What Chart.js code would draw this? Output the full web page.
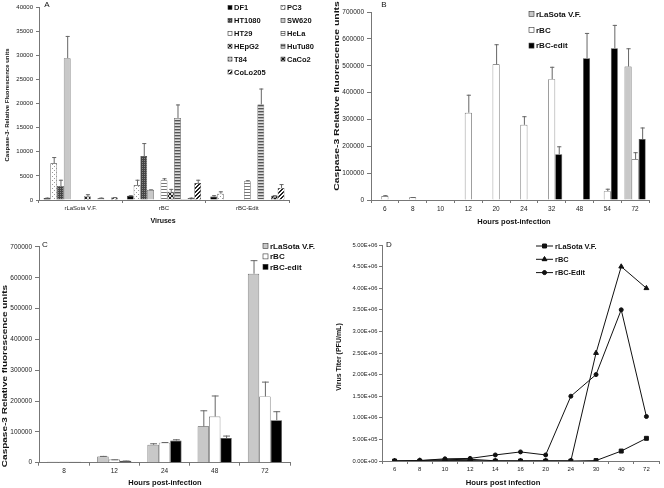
<!DOCTYPE html>
<html>
<head>
<meta charset="utf-8">
<script src="https://cdn.jsdelivr.net/npm/chart.js@4.4.1/dist/chart.umd.min.js"></script>
<style>
  body { margin: 0; background: #fff; width: 664px; height: 488px; position: relative; overflow: hidden; }
  canvas { position: absolute; }
</style>
</head>
<body>
<canvas id="chartA" width="332" height="240" style="left:0;top:0"></canvas>
<canvas id="chartB" width="332" height="240" style="left:332px;top:0"></canvas>
<canvas id="chartC" width="332" height="248" style="left:0;top:240px"></canvas>
<canvas id="chartD" width="332" height="248" style="left:332px;top:240px"></canvas>
<script>
// ---- Panel A: caspase-3 per cell line ----
const virusesA = ["rLaSota V.F.", "rBC", "rBC-Edit"];
const cellLines = ["DF1", "PC3", "HT1080", "SW620", "HT29", "HeLa", "HEpG2", "HuTu80", "T84", "CaCo2", "CoLo205"];
// one row per cell line, one value per virus
const meanA = [
  [400, 900, 700],
  [7600, 3100, 1300],
  [2900, 9100, null],
  [29400, 2100, null],
  [null, null, null],
  [null, 4100, 3900],
  [800, 1700, null],
  [null, 17000, 19800],
  [400, 200, null],
  [null, 400, 900],
  [500, 3500, 2500]
];
const errTopA = [
  [500, 1000, 1000],
  [8900, 4200, 1800],
  [4200, 11800, null],
  [34000, 2200, null],
  [null, null, null],
  [null, 4500, 4100],
  [1200, 2300, null],
  [null, 19800, 23100],
  [500, null, null],
  [null, 500, 1000],
  [600, 4200, 3300]
];

// ---- Panel B: caspase-3 time course ----
const hoursB = ["6", "8", "10", "12", "20", "24", "32", "48", "54", "72"];
const lasotaB = [null, null, null, null, null, null, null, null, null, 497000];
const lasotaErrB = [null, null, null, null, null, null, null, null, null, 565000];
const rbcB = [15000, 10000, null, 325000, 505000, 280000, 450000, null, 33000, 152000];
const rbcErrB = [18000, 11000, null, 392000, 580000, 312000, 496000, null, 42000, 178000];
const editB = [null, null, null, null, null, null, 170000, 528000, 565000, 227000];
const editErrB = [null, null, null, null, null, null, 200000, 622000, 652000, 270000];

// ---- Panel C ----
const hoursC = ["8", "12", "24", "48", "72"];
const lasotaC = [3000, 20000, 58000, 118000, 613000];
const lasotaErrC = [null, 22000, 63000, 170000, 657000];
const rbcC = [3000, 10000, 65000, 150000, 215000];
const rbcErrC = [null, 11000, 67000, 218000, 263000];
const editC = [3000, 6000, 72000, 80000, 138000];
const editErrC = [null, 7000, 76000, 88000, 167000];

// ---- Panel D: virus titer ----
const hoursD = ["6", "8", "10", "12", "14", "16", "20", "24", "30", "40", "72"];
const lasotaD = [0, 0, 10000, 10000, 0, 0, 0, 0, 10000, 230000, 525000];
const rbcD = [0, 10000, 30000, 40000, 5000, 5000, 5000, 5000, 2500000, 4500000, 4000000];
const editD = [0, 10000, 50000, 60000, 140000, 210000, 140000, 1500000, 2000000, 3500000, 1030000];

Chart.defaults.font.family = "'Liberation Sans', Arial, sans-serif";
Chart.defaults.color = "#222";
Chart.defaults.animation = false;

// small pixel patterns for the cell line bars
function pattern(size, bg, draw) {
  const c = document.createElement("canvas");
  c.width = size; c.height = size;
  const g = c.getContext("2d");
  g.fillStyle = bg; g.fillRect(0, 0, size, size);
  draw(g);
  return g.createPattern(c, "repeat");
}
const px = (g, col, pts) => { g.fillStyle = col; pts.forEach(p => g.fillRect(p[0], p[1], 1, 1)); };
const fillsA = [
  "#000",
  pattern(4, "#fff", g => px(g, "#999", [[0, 0], [2, 2]])),
  pattern(2, "#444", g => px(g, "#888", [[0, 0]])),
  "#c8c8c8",
  "#fff",
  pattern(3, "#fff", g => { g.fillStyle = "#777"; g.fillRect(0, 0, 3, 1); }),
  pattern(4, "#ddd", g => px(g, "#222", [[0, 0], [1, 1], [2, 2], [3, 3], [3, 0], [2, 1], [1, 2], [0, 3]])),
  pattern(3, "#aaa", g => { g.fillStyle = "#555"; g.fillRect(0, 0, 3, 1); g.fillStyle = "#ddd"; g.fillRect(0, 2, 3, 1); }),
  pattern(3, "#ccc", g => px(g, "#777", [[0, 0]])),
  pattern(4, "#999", g => px(g, "#111", [[0, 0], [1, 0], [0, 1], [2, 2], [3, 2], [2, 3], [3, 3]])),
  pattern(4, "#fff", g => px(g, "#222", [[0, 3], [1, 2], [2, 1], [3, 0], [0, 2], [1, 1], [2, 0], [3, 3]]))
];

// error bars drawn from each dataset's errTop list
const errorBars = {
  id: "errorBars",
  afterDatasetsDraw(chart) {
    const ctx = chart.ctx, y = chart.scales.y;
    chart.data.datasets.forEach((ds, i) => {
      if (!ds.errTop) return;
      chart.getDatasetMeta(i).data.forEach((bar, j) => {
        const top = ds.errTop[j];
        if (top == null || ds.data[j] == null) return;
        const yt = y.getPixelForValue(top);
        const cap = Math.max(2, bar.width * 0.3);
        ctx.save();
        ctx.strokeStyle = "#666"; ctx.lineWidth = 1;
        ctx.beginPath();
        ctx.moveTo(bar.x + 0.5, bar.y); ctx.lineTo(bar.x + 0.5, yt);
        ctx.moveTo(bar.x + 0.5 - cap, yt + 0.5); ctx.lineTo(bar.x + 0.5 + cap, yt + 0.5);
        ctx.stroke();
        ctx.restore();
      });
    });
  }
};

// free text: panel letters and axis titles (sx stretches along the text)
const panelText = {
  id: "panelText",
  afterDraw(chart, args, opts) {
    const ctx = chart.ctx;
    (opts.items || []).forEach(t => {
      ctx.save();
      ctx.font = t.font; ctx.fillStyle = "#111";
      ctx.textAlign = "center"; ctx.textBaseline = "middle";
      ctx.translate(t.x, t.y);
      if (t.rotate) ctx.rotate(-Math.PI / 2);
      if (t.sx) ctx.scale(t.sx, 1);
      ctx.fillText(t.text, 0, 0);
      ctx.restore();
    });
  }
};

// legend laid out like the Excel one
const boxLegend = {
  id: "boxLegend",
  afterDraw(chart, args, o) {
    if (o.x == null) return;
    const ctx = chart.ctx;
    ctx.save();
    ctx.font = o.font; ctx.textBaseline = "middle"; ctx.textAlign = "left";
    chart.data.datasets.forEach((ds, i) => {
      const x = o.x + (i % o.cols) * o.colW, y = o.y + Math.floor(i / o.cols) * o.rowH;
      if (o.line) {
        ctx.strokeStyle = "#111"; ctx.lineWidth = 1;
        ctx.beginPath(); ctx.moveTo(x, y); ctx.lineTo(x + o.box, y); ctx.stroke();
        ctx.fillStyle = "#111";
        Chart.helpers.drawPoint(ctx, { pointStyle: ds.pointStyle, radius: ds.pointRadius, borderWidth: 1 }, x + o.box / 2, y);
        ctx.fill();
      } else {
        ctx.fillStyle = ds.backgroundColor;
        ctx.fillRect(x, y - o.box / 2, o.box, o.box);
        ctx.strokeStyle = "#333"; ctx.lineWidth = 0.6;
        ctx.strokeRect(x, y - o.box / 2, o.box, o.box);
      }
      ctx.fillStyle = "#111";
      ctx.fillText(ds.label, x + o.box + 2, y + 0.5);
    });
    ctx.restore();
  }
};
Chart.register(errorBars, panelText, boxLegend);

function yAxis(max, step, width, size, tickLen, pad, fmt) {
  return {
    min: 0, max: max,
    ticks: { stepSize: step, font: { size: size }, color: "#222", padding: pad, callback: fmt },
    grid: { drawOnChartArea: false, tickLength: tickLen, color: "#777" },
    border: { color: "#777" },
    afterFit: s => { s.width = width; }
  };
}
function xAxis(height, size) {
  return {
    offset: true,
    ticks: { font: { size: size }, color: "#222", padding: 2, maxRotation: 0, autoSkip: false },
    grid: { drawOnChartArea: false, tickLength: 3, color: "#777", offset: true },
    border: { color: "#777" },
    afterFit: s => { s.height = height; }
  };
}
const plain = v => v;

// Panel A
new Chart(document.getElementById("chartA"), {
  type: "bar",
  data: {
    labels: virusesA,
    datasets: cellLines.map((name, i) => ({
      label: name, data: meanA[i], errTop: errTopA[i],
      backgroundColor: fillsA[i], borderColor: "#333", borderWidth: 0.6
    }))
  },
  options: {
    responsive: false,
    layout: { padding: { top: 7, right: 43, left: 0, bottom: 0 } },
    datasets: { bar: { categoryPercentage: 0.89, barPercentage: 1 } },
    scales: { x: xAxis(40, 6), y: yAxis(40000, 5000, 39, 6, 3, 3, plain) },
    plugins: {
      legend: { display: false }, tooltip: { enabled: false },
      boxLegend: { x: 228, y: 7.5, cols: 2, colW: 53, rowH: 12.9, box: 4, font: "bold 7.5px 'Liberation Sans', Arial" },
      panelText: { items: [
        { text: "A", x: 47, y: 5, font: "8px 'Liberation Sans', Arial" },
        { text: "Caspase-3- Relative Fluorescence units", x: 7.5, y: 105, rotate: true, font: "bold 6px 'Liberation Sans', Arial" },
        { text: "Viruses", x: 163, y: 221, font: "bold 7px 'Liberation Sans', Arial" }
      ] }
    }
  }
});

// Panel B
new Chart(document.getElementById("chartB"), {
  type: "bar",
  data: {
    labels: hoursB,
    datasets: [
      { label: "rLaSota V.F.", data: lasotaB, errTop: lasotaErrB, backgroundColor: "#c8c8c8" },
      { label: "rBC", data: rbcB, errTop: rbcErrB, backgroundColor: "#fff" },
      { label: "rBC-edit", data: editB, errTop: editErrB, backgroundColor: "#000" }
    ]
  },
  options: {
    responsive: false,
    layout: { padding: { top: 12, right: 15, left: 0, bottom: 0 } },
    datasets: { bar: { categoryPercentage: 0.76, barPercentage: 1, borderColor: "#444", borderWidth: 0.7 } },
    scales: { x: xAxis(40, 6.5), y: yAxis(700000, 100000, 39, 6.5, 4, 3, plain) },
    plugins: {
      legend: { display: false }, tooltip: { enabled: false },
      boxLegend: { x: 197, y: 14, cols: 1, colW: 0, rowH: 15.8, box: 5, font: "bold 8px 'Liberation Sans', Arial" },
      panelText: { items: [
        { text: "B", x: 52, y: 5, font: "8px 'Liberation Sans', Arial" },
        { text: "Caspase-3 Relative fluorescence units", x: 4.5, y: 96, rotate: true, sx: 1.3, font: "bold 8px 'Liberation Sans', Arial" },
        { text: "Hours post-infection", x: 182, y: 222, font: "bold 7.5px 'Liberation Sans', Arial" }
      ] }
    }
  }
});

// Panel C
new Chart(document.getElementById("chartC"), {
  type: "bar",
  data: {
    labels: hoursC,
    datasets: [
      { label: "rLaSota V.F.", data: lasotaC, errTop: lasotaErrC, backgroundColor: "#c8c8c8" },
      { label: "rBC", data: rbcC, errTop: rbcErrC, backgroundColor: "#fff" },
      { label: "rBC-edit", data: editC, errTop: editErrC, backgroundColor: "#000" }
    ]
  },
  options: {
    responsive: false,
    layout: { padding: { top: 5, right: 42, left: 0, bottom: 0 } },
    datasets: { bar: { categoryPercentage: 0.68, barPercentage: 1, borderColor: "#444", borderWidth: 0.7 } },
    scales: { x: xAxis(25.3, 6.5), y: yAxis(700000, 100000, 39, 6.5, 4, 3, plain) },
    plugins: {
      legend: { display: false }, tooltip: { enabled: false },
      boxLegend: { x: 263, y: 6, cols: 1, colW: 0, rowH: 10.4, box: 5, font: "bold 8px 'Liberation Sans', Arial" },
      panelText: { items: [
        { text: "C", x: 45, y: 5, font: "8px 'Liberation Sans', Arial" },
        { text: "Caspase-3 Relative fluorescence units", x: 5, y: 136, rotate: true, sx: 1.25, font: "bold 8px 'Liberation Sans', Arial" },
        { text: "Hours post-infection", x: 165, y: 243, font: "bold 7.5px 'Liberation Sans', Arial" }
      ] }
    }
  }
});

// Panel D
const sci = v => {
  if (v === 0) return "0.00E+00";
  const e = Math.floor(Math.log10(v));
  return (v / Math.pow(10, e)).toFixed(2) + "E+" + String(e).padStart(2, "0");
};
const lineStyle = { borderColor: "#111", backgroundColor: "#111", borderWidth: 1, pointBackgroundColor: "#111", pointBorderColor: "#111", tension: 0 };
new Chart(document.getElementById("chartD"), {
  type: "line",
  data: {
    labels: hoursD,
    datasets: [
      Object.assign({ label: "rLaSota V.F.", data: lasotaD, pointStyle: "rect", pointRadius: 2.8 }, lineStyle),
      Object.assign({ label: "rBC", data: rbcD, pointStyle: "triangle", pointRadius: 2.8 }, lineStyle),
      Object.assign({ label: "rBC-Edit", data: editD, pointStyle: "circle", pointRadius: 2 }, lineStyle)
    ]
  },
  options: {
    responsive: false,
    layout: { padding: { top: 5, right: 4, left: 0, bottom: 0 } },
    scales: { x: xAxis(27, 6), y: yAxis(5000000, 500000, 50, 5.8, 3, 1.5, sci) },
    plugins: {
      legend: { display: false }, tooltip: { enabled: false },
      boxLegend: { x: 204, y: 6, cols: 1, colW: 0, rowH: 13.3, box: 17, line: true, font: "bold 7.4px 'Liberation Sans', Arial" },
      panelText: { items: [
        { text: "D", x: 57, y: 5, font: "8px 'Liberation Sans', Arial" },
        { text: "Virus Titer (PFU/mL)", x: 7, y: 117, rotate: true, font: "bold 7px 'Liberation Sans', Arial" },
        { text: "Hours post infection", x: 171, y: 243, font: "bold 7.7px 'Liberation Sans', Arial" }
      ] }
    }
  }
});
</script>
</body>
</html>
